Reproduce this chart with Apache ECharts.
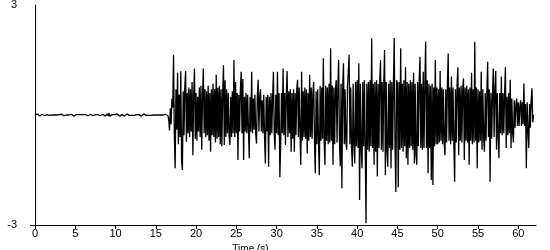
<!DOCTYPE html>
<html>
<head>
<meta charset="utf-8">
<script src="https://cdn.jsdelivr.net/npm/echarts@6/dist/echarts.min.js"></script>
<style>
html,body{margin:0;padding:0;background:#fff;}
#chart{width:550px;height:250px;}
</style>
</head>
<body>
<div id="chart"></div>
<script>
// ---- data ----
const timeStep = 0.1; // seconds between samples
const accel = [
 0,0.02,-0.02,0.03,-0.02,0.02,-0.03,0.02,-0.01,0.02,
 -0.02,0.03,-0.02,0.01,-0.02,0.01,0,0.01,-0.01,0,
 0.01,0,-0.01,0.01,0,-0.01,0.01,0,0,-0.01,
 0.01,0,-0.01,0.02,-0.03,0.02,-0.02,0.03,-0.01,0,
 0.01,-0.01,0,0.02,-0.03,0.02,-0.02,0.03,-0.03,0.02,
 -0.02,0.01,-0.01,0,0.01,-0.01,0,0.01,0,-0.01,
 0.01,0,-0.01,0.01,0,0.02,-0.02,0.03,-0.02,0.02,
 -0.03,0.02,-0.02,0.03,-0.01,0.01,0,-0.01,0.01,0,
 0.02,-0.02,0.03,-0.03,0.02,-0.03,0.04,-0.03,0.02,-0.04,
 0.03,-0.03,0.05,-0.03,0.02,-0.02,0.01,0,-0.01,0.01,
 0.02,-0.02,0.03,-0.02,0.02,-0.03,0.02,-0.02,0.01,-0.02,
 0.02,-0.03,0.02,-0.02,0.03,-0.02,0.02,-0.01,0.01,0,
 -0.01,0.01,0,-0.01,0.01,0,0.01,-0.01,0,0.01,
 -0.02,0.02,-0.03,0.02,-0.02,0.03,-0.02,0.01,-0.01,0,
 0.01,-0.01,0,0.01,-0.01,0,0.01,0,-0.01,0.01,
 0,-0.01,0.01,0,-0.01,0.01,0,-0.01,0.01,0,
 0.01,-0.02,0.02,-0.01,0.02,-0.02,-0.12,-0.42,0.18,-0.25,
 0.45,0.2,1.64,-0.55,-1.45,0.7,-0.4,1.15,-0.8,0.55,
 -0.6,1.19,-1.27,-1.5,0.65,-0.55,0.8,1.2,-0.73,0.6,
 -0.5,0.75,-0.6,0.7,-0.45,0.9,-1.1,0.55,1.27,-0.65,
 0.6,-0.7,0.5,-0.45,0.75,-0.6,0.8,-0.95,0.55,1.27,
 -0.5,0.7,-0.6,0.65,-0.55,0.8,-0.7,0.6,-1.0,0.7,
 -0.55,0.85,-0.6,0.7,-0.75,1.1,-0.65,0.75,-0.6,0.8,
 -0.8,0.7,-0.85,0.6,1.36,-0.82,0.95,-0.6,0.7,-0.5,
 0.6,-0.55,-0.82,0.5,-0.6,0.65,-0.5,1.5,-0.6,0.9,
 -0.5,0.6,-1.23,0.55,-0.45,0.7,1.18,-0.5,0.98,-1.23,
 0.5,-0.45,0.6,-0.5,0.55,-0.4,-1.18,0.5,-0.45,1.18,
 -0.5,0.45,-0.4,0.55,-0.5,-0.78,0.5,0.96,-0.45,0.5,
 0.71,-0.45,0.4,-0.5,0.55,-0.6,-1.32,0.5,-0.45,0.55,
 -1.41,0.5,-0.55,0.6,-0.5,0.45,1.18,-0.5,-0.95,0.55,
 -0.5,1.18,-0.55,0.6,-1.7,-0.82,0.6,-0.5,1.27,-0.55,
 0.6,-0.82,0.55,1.2,-0.6,0.65,-0.5,0.7,-1.0,0.6,
 -0.65,0.7,-1.0,0.6,-0.55,0.7,0.96,-0.6,0.75,-0.5,
 -1.36,1.18,-0.7,0.65,-0.6,0.75,-0.65,0.7,-1.05,0.6,
 -0.7,1.1,-0.6,0.75,-0.65,0.6,0.9,-0.7,-1.59,0.65,
 -0.8,0.7,-0.75,-1.64,0.8,-0.7,0.75,-0.65,1.55,-0.75,
 -1.36,0.8,-0.7,0.75,-0.8,0.85,-0.75,1.82,-0.7,0.8,
 -1.36,0.75,-0.8,0.7,0.95,-0.75,0.8,1.5,-0.7,-1.4,
 0.85,-2.0,0.75,1.41,-0.8,0.7,-0.75,-0.95,0.8,1.2,
 1.64,-0.8,0.75,-0.9,-1.41,0.85,-0.8,-1.32,0.9,-0.85,
 0.95,-0.9,1.41,-2.32,0.85,-0.9,-1.45,0.9,-0.85,0.95,
 -0.9,-2.95,0.85,-0.95,0.9,-1.0,0.95,-0.85,2.09,-0.9,
 0.85,-1.36,0.9,-1.0,0.95,-1.68,0.85,-0.9,0.95,1.5,
 -0.95,0.9,-1.0,0.85,1.77,-1.64,0.9,-0.95,-1.41,0.85,
 -0.9,0.95,-1.45,0.9,-0.95,0.85,2.1,-0.9,-2.1,0.95,
 0.85,-1.97,0.9,-0.95,1.82,-0.9,0.85,-1.0,0.95,-0.85,
 1.3,-1.18,0.9,-1.36,0.85,-0.9,0.95,-0.85,0.9,-0.95,
 1.15,-1.32,0.85,-1.1,-1.36,0.9,-0.85,0.95,1.59,-0.9,
 0.85,-0.95,1.18,-0.9,0.85,2.0,-0.9,0.95,-1.59,0.85,
 -0.9,0.8,-1.77,0.85,-1.91,0.75,-0.85,1.5,-0.8,0.75,
 -0.8,0.7,-0.75,1.2,-0.7,0.75,-0.8,0.7,-0.75,-1.1,
 0.7,-0.75,0.8,1.68,-0.7,0.75,-0.8,1.05,-0.7,0.75,
 -0.8,-1.82,0.7,-0.75,0.8,1.3,-1.1,0.75,-0.7,0.8,
 -0.75,0.7,1.0,-1.23,0.75,-0.7,0.8,-0.75,0.7,-1.36,
 0.75,-0.7,1.15,-0.8,0.7,-0.75,2.0,-0.7,0.75,-1.45,
 0.7,-0.75,0.65,-0.7,1.18,-0.95,0.7,-0.65,-1.0,0.6,
 -0.7,0.65,1.45,-0.6,0.7,-1.82,0.6,-0.65,0.55,1.27,
 -0.6,0.65,1.2,-0.95,0.6,-0.55,-1.18,0.6,-0.5,1.05,
 -0.55,0.6,-0.5,0.55,1.3,-0.9,0.5,-0.55,0.6,-0.5,
 0.96,-0.9,0.45,-0.5,-0.75,0.4,-0.35,0.3,0.45,-0.3,
 0.35,-0.3,0.25,0.4,-0.3,0.35,-0.25,0.86,-0.3,0.3,
 -1.45,0.35,-0.4,-0.9,0.3,-0.35,0.4,0.73,-0.2,0
];
const xTickValues = [0,5,10,15,20,25,30,35,40,45,50,55,60];
const yLabelValues = [-3, 3];
const yTickValues = [-3];
const xName = 'Time (s)';
const yName = 'cm/s/s';
const xMin = 0, xMax = 62.2, yMin = -3, yMax = 3;

// ---- chart ----
const seriesData = accel.map((v, i) => [+(i * timeStep).toFixed(2), v]);
const font = '"Liberation Sans", Arial, sans-serif';
const chart = echarts.init(document.getElementById('chart'), null, {renderer: 'canvas'});
chart.setOption({
  animation: false,
  backgroundColor: '#ffffff',
  grid: {left: 35, right: 14, top: 5, bottom: 25, containLabel: false, outerBoundsMode: 'none'},
  xAxis: {
    type: 'value', min: xMin, max: xMax,
    name: xName, nameLocation: 'middle', nameGap: 12,
    nameTextStyle: {color: '#000', fontSize: 10, fontFamily: font, padding: [0, 70, 0, 0]},
    axisLine: {show: true, onZero: false, lineStyle: {color: '#000', width: 1}},
    axisTick: {show: true, inside: false, length: 4, customValues: xTickValues, lineStyle: {color: '#000'}},
    axisLabel: {show: true, margin: 3, customValues: xTickValues, color: '#000', fontSize: 11, fontFamily: font},
    splitLine: {show: false}
  },
  yAxis: {
    type: 'value', min: yMin, max: yMax,
    name: yName, nameLocation: 'middle', nameGap: 16, nameRotate: 90,
    nameTextStyle: {color: '#000', fontSize: 10, fontFamily: font},
    axisLine: {show: true, onZero: false, lineStyle: {color: '#000', width: 1}},
    axisTick: {show: true, inside: false, length: 5, customValues: yTickValues, lineStyle: {color: '#000'}},
    axisLabel: {show: true, margin: 18, customValues: yLabelValues, color: '#000', fontSize: 11, fontFamily: font},
    splitLine: {show: false}
  },
  series: [{
    type: 'line',
    data: seriesData,
    showSymbol: false,
    symbol: 'none',
    sampling: null,
    lineStyle: {color: '#000', width: 1.3},
    emphasis: {disabled: true}
  }]
});
</script>
</body>
</html>
